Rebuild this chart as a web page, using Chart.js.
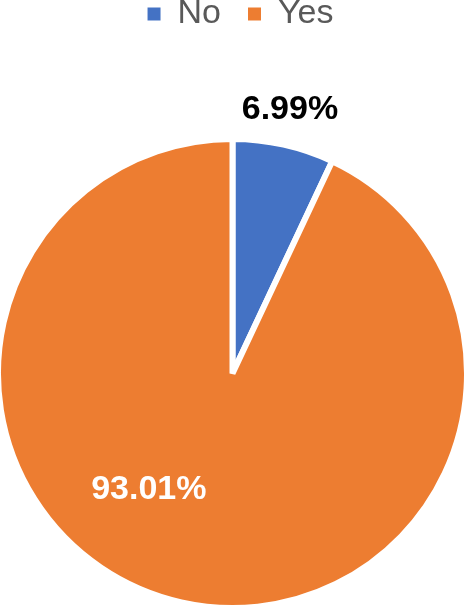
<!DOCTYPE html>
<html><head><meta charset="utf-8">
<script src="https://cdn.jsdelivr.net/npm/chart.js@4/dist/chart.umd.min.js"></script>
<style>
html,body{margin:0;padding:0;background:#fff;overflow:hidden;width:466px;height:607px;}
#wrap{position:absolute;left:-5px;top:-30px;width:475px;height:736px;}
</style></head>
<body>
<div id="wrap"><canvas id="c" width="475" height="736"></canvas></div>
<script>
const categories = ["No", "Yes"];
const values = [6.99, 93.01];
const labelsText = ["6.99%", "93.01%"];

const colors = ["#4472C4", "#ED7D31"];
const labelStyle = [
  {dx: 0.245, dy: -1.124, color: "#000000"},
  {dx: -0.357, dy: 0.497, color: "#FFFFFF"}
];

const pctLabels = {
  id: "pctLabels",
  afterLayout(chart) {
    if (chart.legend) { chart.legend.left += 8; chart.legend.right += 8; }
  },
  afterDatasetsDraw(chart) {
    const ctx = chart.ctx;
    const meta = chart.getDatasetMeta(0);
    ctx.save();
    ctx.font = "bold 34px 'Liberation Sans', Arial, sans-serif";
    ctx.textAlign = "center";
    ctx.textBaseline = "middle";
    meta.data.forEach((arc, i) => {
      const r = arc.outerRadius;
      const s = labelStyle[i];
      ctx.fillStyle = s.color;
      ctx.fillText(labelsText[i], arc.x + s.dx * r, arc.y + s.dy * r);
    });
    ctx.restore();
  }
};

new Chart(document.getElementById("c"), {
  type: "pie",
  data: {
    labels: categories,
    datasets: [{
      data: values,
      backgroundColor: colors,
      borderColor: "#FFFFFF",
      borderWidth: 6
    }]
  },
  options: {
    responsive: false,
    animation: false,
    layout: {padding: 0},
    plugins: {
      tooltip: {enabled: false},
      legend: {
        position: "top",
        labels: {
          boxWidth: 13,
          boxHeight: 13,
          padding: 27,
          color: "#595959",
          font: {size: 34, family: "'Liberation Sans', Arial, sans-serif"},
          generateLabels(chart) {
            const items = Chart.overrides.pie.plugins.legend.labels.generateLabels(chart);
            items.forEach(it => { it.lineWidth = 0; it.strokeStyle = it.fillStyle; });
            return items;
          }
        }
      }
    }
  },
  plugins: [pctLabels]
});
</script>
</body></html>
